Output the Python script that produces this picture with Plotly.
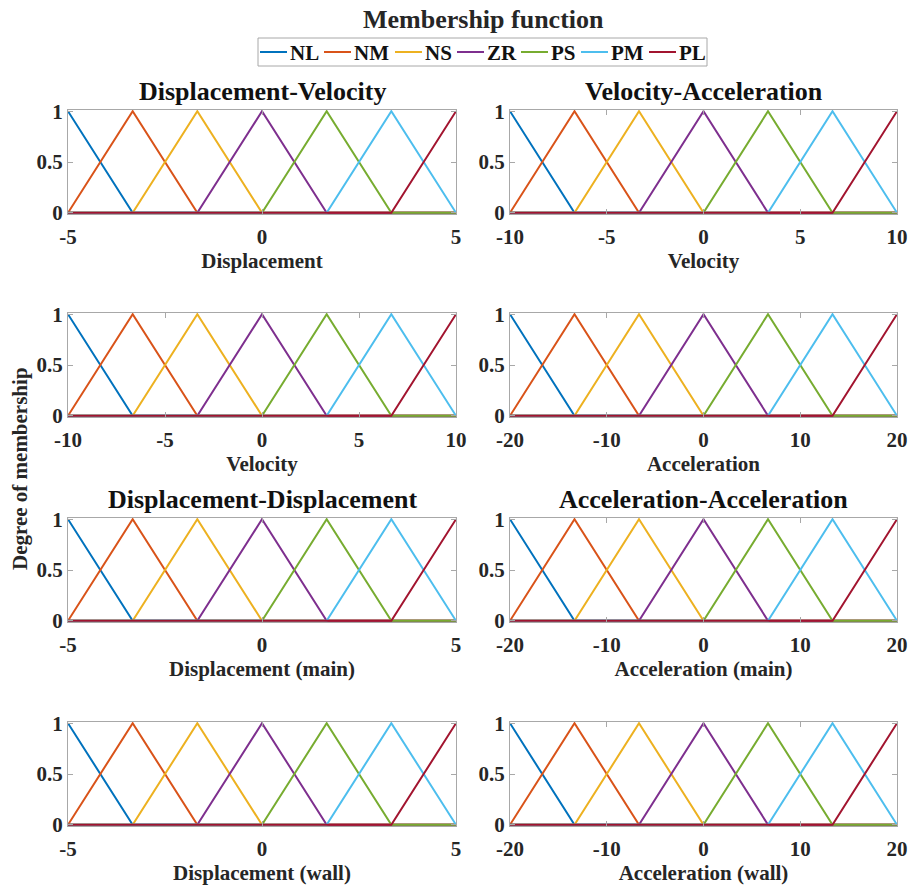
import plotly.graph_objects as go

W, H = 911, 889

# Membership function names and colours
mf_names = ["NL", "NM", "NS", "ZR", "PS", "PM", "PL"]
mf_colors = ["#0072BD", "#D95319", "#EDB120", "#7E2F8E", "#77AC30", "#4DBEEE", "#A2142F"]
# Triangle parameters (left foot, peak, right foot) in units of (range/3)
mf_left = [-3, -3, -2, -1, 0, 1, 2]
mf_peak = [-3, -2, -1, 0, 1, 2, 3]
mf_right = [-2, -1, 0, 1, 2, 3, 3]

# Panels: row-major, 4 rows x 2 columns
panel_ranges = [5, 10, 10, 20, 5, 20, 5, 20]
panel_xlabels = ["Displacement", "Velocity", "Velocity", "Acceleration",
                 "Displacement (main)", "Acceleration (main)",
                 "Displacement (wall)", "Acceleration (wall)"]
panel_xticks = [[-5, 0, 5], [-10, -5, 0, 5, 10], [-10, -5, 0, 5, 10], [-20, -10, 0, 10, 20],
                [-5, 0, 5], [-20, -10, 0, 10, 20], [-5, 0, 5], [-20, -10, 0, 10, 20]]
y_ticks = [0, 0.5, 1]
y_ticklabels = ["0", "0.5", "1"]
group_titles = ["Displacement-Velocity", "Velocity-Acceleration",
                "Displacement-Displacement", "Acceleration-Acceleration"]

# pixel layout
col_px = [(68, 456), (510, 897)]
row_px = [(110, 214), (313, 417), (518, 622), (722, 826)]
legend_box = (258, 38, 707, 66)
legend_line_x = [260, 324, 395, 457, 521, 581, 649]
legend_line_len = 27

FONT = "Liberation Serif"
TXT = "#262626"
AX = "#a8a8a8"


def b(t):
    return "<b>" + t + "</b>"


def px_x(x):
    return x / W


def px_y(y):
    return 1 - y / H


def trimf(x, a, b_, c):
    if x == b_:
        return 1.0
    if a < x < b_:
        return (x - a) / (b_ - a)
    if b_ < x < c:
        return (c - x) / (c - b_)
    return 0.0


fig = go.Figure()
layout = {}
for k in range(8):
    r, c = divmod(k, 2)
    R = panel_ranges[k]
    s = R / 3.0
    ax = "" if k == 0 else str(k + 1)
    for i, name in enumerate(mf_names):
        a, p, cc = mf_left[i] * s, mf_peak[i] * s, mf_right[i] * s
        xs = sorted(set([-R, a, p, cc, R]))
        ys = [trimf(x, a, p, cc) for x in xs]
        fig.add_trace(go.Scatter(
            x=xs, y=ys, mode="lines", name=name,
            line=dict(color=mf_colors[i], width=2),
            showlegend=False, legendgroup=name,
            xaxis="x" + ax, yaxis="y" + ax, hoverinfo="skip"))
    x0, x1 = col_px[c]
    y0, y1 = row_px[r]
    layout["xaxis" + ax] = dict(
        domain=[x0 / W, x1 / W], anchor="y" + ax, range=[-R, R], automargin=False,
        tickmode="array", tickvals=panel_xticks[k],
        ticktext=[b(str(v)) for v in panel_xticks[k]],
        ticks="inside", ticklen=5, tickcolor=AX, showline=True, linecolor=AX,
        linewidth=1, mirror="ticks", showgrid=False, zeroline=False,
        ticklabelstandoff=4,
        tickfont=dict(family=FONT, size=21, color=TXT),
        title=dict(text=b(panel_xlabels[k]), standoff=1,
                   font=dict(family=FONT, size=21, color=TXT)),
    )
    layout["yaxis" + ax] = dict(
        domain=[1 - y1 / H, 1 - y0 / H], anchor="x" + ax, range=[-0.012, 1.012],
        automargin=False,
        tickmode="array", tickvals=y_ticks, ticktext=[b(t) for t in y_ticklabels],
        ticks="inside", ticklen=5, tickcolor=AX, showline=True, linecolor=AX,
        linewidth=1, mirror="ticks", showgrid=False, zeroline=False,
        tickfont=dict(family=FONT, size=21, color=TXT),
    )

annotations = []
shapes = []
title_rows = [0, 0, 2, 2]
for j, t in enumerate(group_titles):
    c = j % 2
    r = title_rows[j]
    xc = (col_px[c][0] + col_px[c][1]) / 2
    annotations.append(dict(
        text=b(t), x=px_x(xc), y=px_y(row_px[r][0] - 19), xref="paper", yref="paper",
        showarrow=False, xanchor="center", yanchor="middle",
        font=dict(family=FONT, size=26, color="#111111")))
annotations.append(dict(
    text=b("Membership function"), x=px_x(483), y=px_y(20), xref="paper", yref="paper",
    showarrow=False, xanchor="center", yanchor="middle",
    font=dict(family=FONT, size=26, color=TXT)))
annotations.append(dict(
    text=b("Degree of membership"), x=px_x(20), y=px_y(469), xref="paper", yref="paper",
    showarrow=False, xanchor="center", yanchor="middle", textangle=-90,
    font=dict(family=FONT, size=21, color=TXT)))

# Legend (drawn box with line samples and labels)
lx0, ly0, lx1, ly1 = legend_box
shapes.append(dict(type="rect", xref="paper", yref="paper",
                   x0=px_x(lx0), x1=px_x(lx1), y0=px_y(ly1), y1=px_y(ly0),
                   line=dict(color=AX, width=1), fillcolor="white", layer="above"))
ly = (ly0 + ly1) / 2
for i, name in enumerate(mf_names):
    sx = legend_line_x[i]
    shapes.append(dict(type="line", xref="paper", yref="paper",
                       x0=px_x(sx), x1=px_x(sx + legend_line_len), y0=px_y(ly), y1=px_y(ly),
                       line=dict(color=mf_colors[i], width=2), layer="above"))
    annotations.append(dict(
        text=b(name), x=px_x(sx + legend_line_len + 1), y=px_y(ly + 1), xref="paper", yref="paper",
        showarrow=False, xanchor="left", yanchor="middle",
        font=dict(family=FONT, size=21, color="#111111")))

fig.update_layout(
    width=W, height=H, margin=dict(l=0, r=0, t=0, b=0, autoexpand=False),
    paper_bgcolor="white", plot_bgcolor="white",
    font=dict(family=FONT, color=TXT),
    showlegend=False,
    annotations=annotations, shapes=shapes,
    **layout,
)

fig.write_html("out.html")
